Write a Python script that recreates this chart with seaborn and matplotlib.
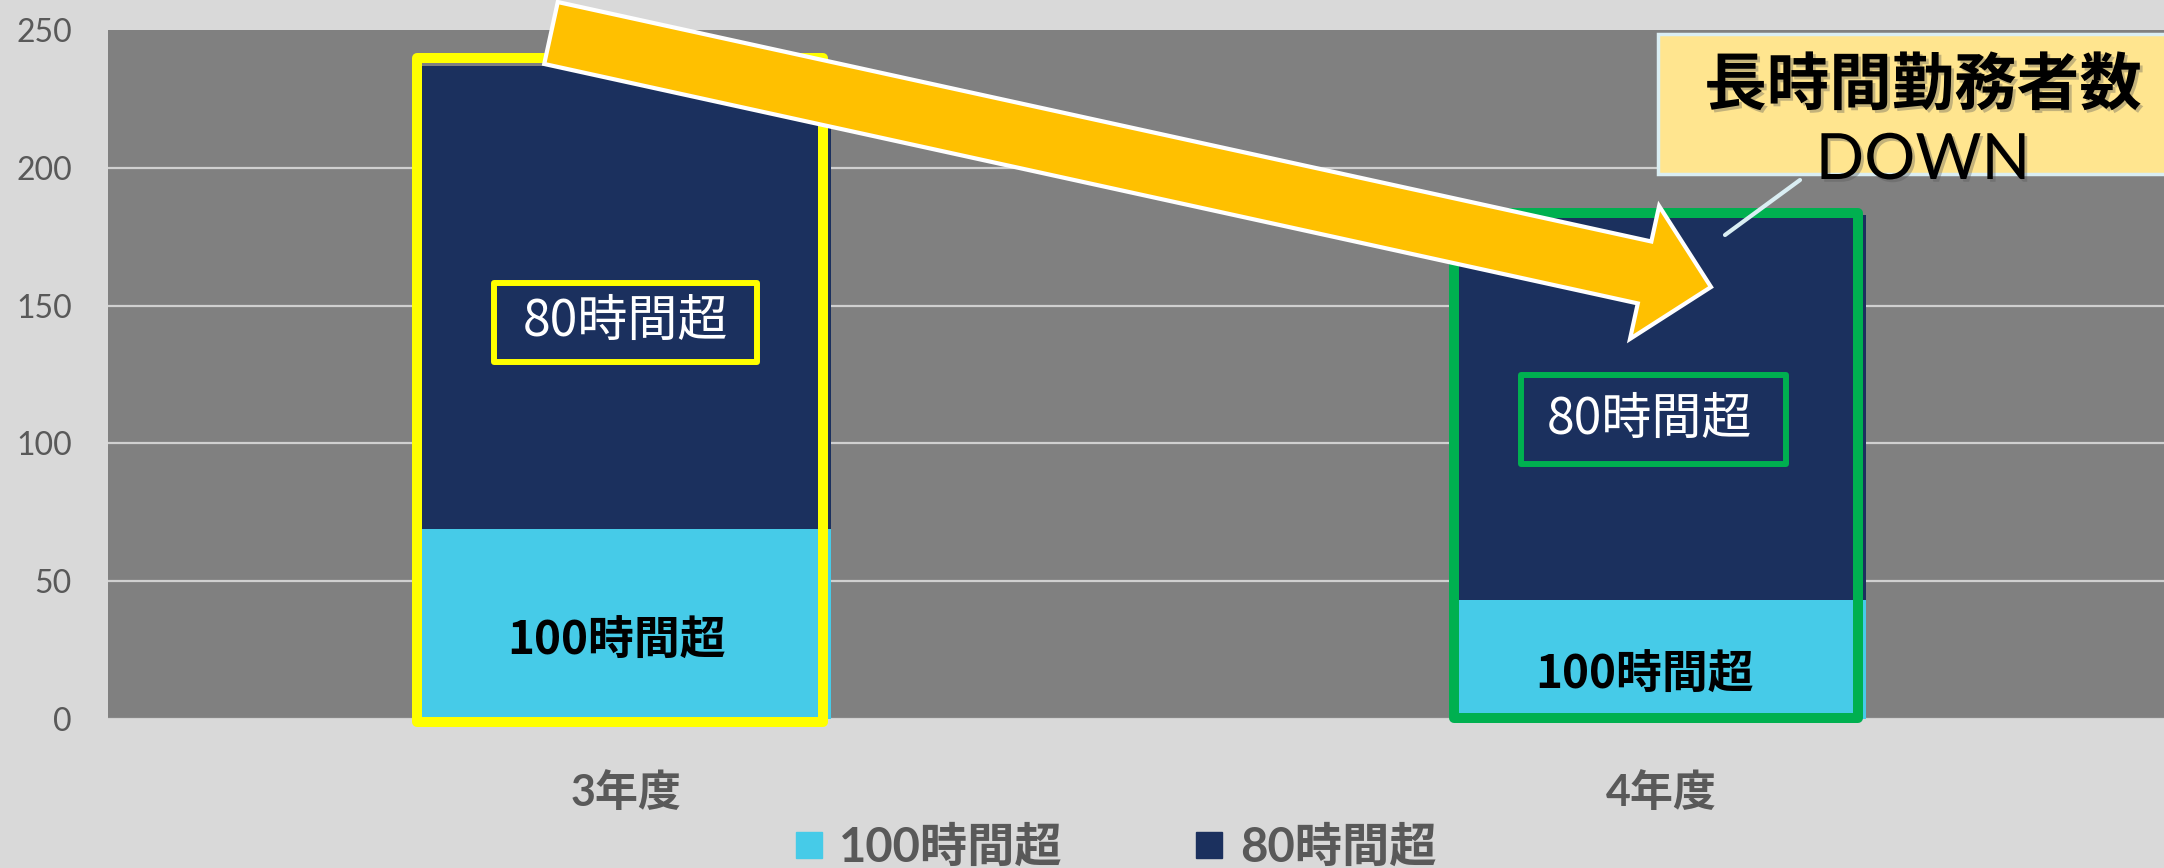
import matplotlib
matplotlib.use("Agg")
import matplotlib.pyplot as plt
import seaborn as sns
import numpy as np
import pandas as pd
from matplotlib.patches import Rectangle, Polygon
from matplotlib.lines import Line2D
from matplotlib.transforms import Affine2D
import matplotlib.patheffects as pe

# ---------------- data ----------------
categories = ["3年度", "4年度"]
over100 = [69, 43]          # 100時間超
over80 = [168, 140]         # 80時間超 (stacked on top)
series_names = ["100時間超", "80時間超"]
yticks = [0, 50, 100, 150, 200, 250]
callout_title = "長時間勤務者数"
callout_sub = "DOWN"

# ---------------- style ----------------
C_LIGHT = "#46CBE8"
C_NAVY = "#1B305E"
C_FIG = "#D9D9D9"
C_AX = "#808080"
C_TXT = "#595959"
C_ARROW = "#FFC000"

sns.set_theme(style="white")
plt.rcParams["font.family"] = ["Lato", "Noto Sans CJK JP", "DejaVu Sans"]

W, H = 2164, 868
fig = plt.figure(figsize=(W / 100, H / 100), dpi=100, facecolor=C_FIG)
ax = fig.add_axes([108 / W, (H - 719) / H, 1 - 108 / W, (719 - 30) / H])
ax.set_facecolor(C_AX)

totals = [a + b for a, b in zip(over100, over80)]
df = pd.DataFrame({"cat": categories, "total": totals, "h100": over100})
bw = 0.396
sns.barplot(data=df, x="cat", y="total", color=C_NAVY, saturation=1, width=bw,
            errorbar=None, ax=ax, zorder=2, linewidth=0)
sns.barplot(data=df, x="cat", y="h100", color=C_LIGHT, saturation=1, width=bw,
            errorbar=None, ax=ax, zorder=2, linewidth=0)

ax.set_xlim(-0.5, 1.486)
ax.set_ylim(0, 250)
ax.set_yticks(yticks)
ax.set_xlabel("")
ax.set_ylabel("")
for s in ax.spines.values():
    s.set_visible(False)
for v in yticks[:-1]:
    ax.axhline(v, color="#D0D0D0", lw=1.6, zorder=1)
ax.tick_params(axis="y", length=0, pad=26, labelsize=23, labelcolor=C_TXT)
ax.tick_params(axis="x", length=0, pad=38, labelsize=31, labelcolor=C_TXT)
for t in ax.get_xticklabels():
    t.set_fontweight("bold")

# highlight frames around the bars
bars = ax.patches[:2]
p = bars[0]
ax.add_patch(Rectangle((p.get_x() - 0.004, -1), p.get_width() - 0.003, p.get_height() + 4,
                       fill=False, ec="#FFFF00", lw=7.2, joinstyle="round", zorder=3, clip_on=False))
p = bars[1]
ax.add_patch(Rectangle((p.get_x() - 0.002, 0.5), p.get_width() - 0.006, p.get_height(),
                       fill=False, ec="#00B050", lw=7.2, joinstyle="round", zorder=3, clip_on=False))

# in-bar labels (offsets relative to each category position)
label80_pos = [(0.0, 144), (-0.007, 108.5)]
box80_size = [(0.254, 28.7), (0.256, 32.3)]
box80_colors = ["#FFFF00", "#00B050"]
label100_pos = [(-0.009, 28), (-0.016, 15.6)]
for i in range(2):
    x, y = label80_pos[i]
    x += i
    bwid, bht = box80_size[i]
    ax.add_patch(Rectangle((x - bwid / 2, y - bht / 2), bwid, bht, fill=False,
                           ec=box80_colors[i], lw=4.3, joinstyle="round", zorder=4))
    ax.text(x - (0.004 if i else 0), y, series_names[1], color="white", fontsize=36,
            ha="center", va="center", zorder=4,
            family=["Noto Sans CJK JP", "DejaVu Sans"])
    x, y = label100_pos[i]
    x += i
    ax.text(x, y, series_names[0], color="black", fontsize=33, fontweight="bold",
            ha="center", va="center", zorder=4,
            family=["Noto Sans CJK JP", "DejaVu Sans"])

# pixel (y-down) -> figure transform
px = Affine2D().scale(1 / W, -1 / H).translate(0, 1) + fig.transFigure

# big arrow
T = np.array([551.0, 33.0])
P = np.array([1711.0, 287.0])
d = P - T
L = np.hypot(*d)
u = d / L
n = np.array([-u[1], u[0]])
hw_s, hw_h, hl = 31.7, 68.0, 68.0
B = P - u * hl
pts = [T - n * hw_s, B - n * hw_s, B - n * hw_h, P, B + n * hw_h, B + n * hw_s, T + n * hw_s]
fig.add_artist(Polygon(pts, closed=True, transform=px, fc=C_ARROW, ec="white", lw=3,
                       joinstyle="miter", zorder=5))

# callout
fig.add_artist(Rectangle((1658, 34), 520, 140, transform=px, fc="#FFE58F", ec="#DAEEF3",
                         lw=2.5, zorder=6))
fig.add_artist(Line2D([1800, 1725], [180, 235], transform=px, color="#DAEEF3", lw=3,
                      solid_capstyle="round", zorder=6))
shadow = [pe.withSimplePatchShadow(offset=(2, -2), alpha=0.35, shadow_rgbFace="#555555")]
fig.text(1923 / W, 1 - 86 / H, callout_title, fontsize=45, fontweight="bold", color="black",
         ha="center", va="center", zorder=7, family=["Noto Sans CJK JP", "DejaVu Sans"],
         path_effects=shadow)
fig.text(1923 / W, 1 - 161 / H, callout_sub, fontsize=46, color="black",
         ha="center", va="center", zorder=7, family=["Lato", "DejaVu Sans"],
         path_effects=shadow)

# legend
handles = [Line2D([], [], ls="none", marker="s", markersize=19, mfc=c, mec=c)
           for c in (C_LIGHT, C_NAVY)]
leg = fig.legend(handles, series_names, loc="center", bbox_to_anchor=(0.5155, 0.024), ncol=2,
                 frameon=False, fontsize=34, labelcolor=C_TXT, handlelength=0.6,
                 handletextpad=0.35, columnspacing=2.8, borderpad=0, borderaxespad=0)
for t in leg.get_texts():
    t.set_fontweight("bold")

fig.savefig("out.png", dpi=100, facecolor=C_FIG)
